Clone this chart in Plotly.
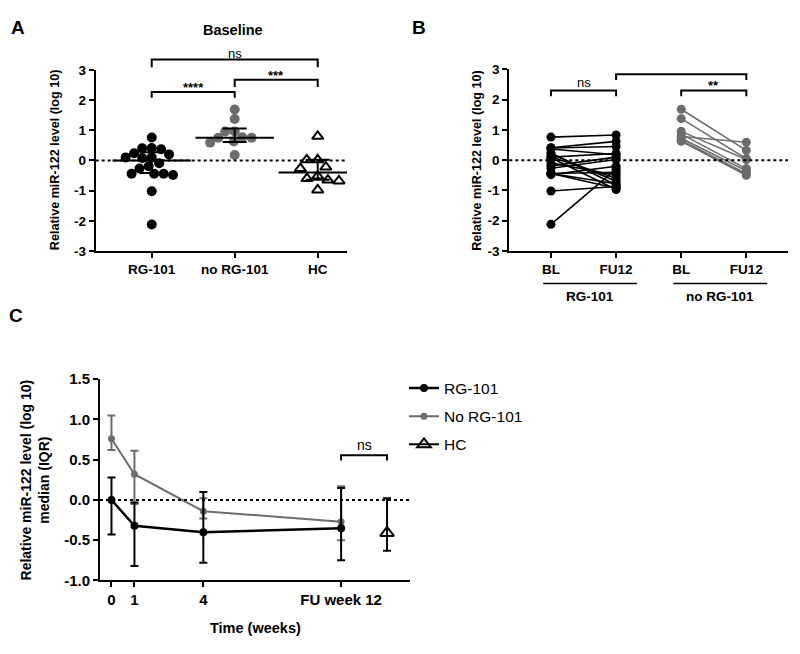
import numpy as np
import plotly.graph_objects as go

# The page body has an 8px margin; the figure is sized to fill the rest of the window.
OFF = 8
W, H = 800 - OFF, 654 - OFF
FONT = "Liberation Sans, Arial, Helvetica, sans-serif"
GREY = "rgb(108,108,108)"

# ---------------- Panel A : baseline scatter ----------------
a_groups = ["RG-101", "no RG-101", "HC"]
a_rg101 = [0.76, 0.41, 0.37, 0.40, 0.24, 0.20, 0.10, 0.10, 0.08, -0.09,
           -0.27, -0.19, -0.44, -0.48, -0.44, -0.44, -1.02, -2.12]
a_norg = [1.69, 1.37, 0.96, 0.96, 0.75, 0.75, 0.77, 0.63, 0.59, 0.18]
a_hc = [0.80, 0.02, 0.02, -0.22, -0.27, -0.52, -0.60, -0.68, -0.65, -0.98]
a_median = [0.0, 0.75, -0.40]
a_q1 = [-0.42, 0.61, -0.64]
a_q3 = [0.27, 1.06, 0.02]
ab_yticks = [-3, -2, -1, 0, 1, 2, 3]
ab_yticklabels = ["-3", "-2", "-1", "0", "1", "2", "3"]

# ---------------- Panel B : paired BL vs FU12 ----------------
b_ticks = ["BL", "FU12", "BL", "FU12"]
b_group_labels = ["RG-101", "no RG-101"]
b_rg_bl = [0.76, 0.41, 0.40, 0.37, 0.24, 0.20, 0.10, 0.10, 0.08, -0.09,
           -0.19, -0.27, -0.44, -0.44, -0.44, -0.48, -1.02, -2.12]
b_rg_fu = [0.83, 0.62, 0.45, 0.18, -0.82, -0.70, 0.22, -0.60, -0.97, -0.50,
           0.10, 0.02, -0.78, -0.93, -0.40, -0.20, -0.87, -0.30]
b_no_bl = [1.68, 1.37, 0.95, 0.86, 0.78, 0.72, 0.66, 0.62]
b_no_fu = [0.32, 0.05, 0.02, -0.28, 0.59, -0.35, -0.45, -0.50]

# ---------------- Panel C : time course, median (IQR) ----------------
c_weeks = [0, 1, 4, 10]
c_tick_labels = ["0", "1", "4", "FU week 12"]
c_yticks = [-1.0, -0.5, 0.0, 0.5, 1.0, 1.5]
c_yticklabels = ["-1.0", "-0.5", "0.0", "0.5", "1.0", "1.5"]
c_rg_med = [0.0, -0.32, -0.40, -0.35]
c_rg_q1 = [-0.43, -0.82, -0.78, -0.75]
c_rg_q3 = [0.28, -0.03, 0.10, 0.15]
c_no_med = [0.76, 0.32, -0.14, -0.27]
c_no_q1 = [0.62, -0.05, -0.23, -0.50]
c_no_q3 = [1.05, 0.61, 0.02, 0.17]
c_hc_x = [12]
c_hc_med = [-0.41]
c_hc_q1 = [-0.63]
c_hc_q3 = [0.02]


def PX(x):  # window pixel -> paper x
    return (x - OFF) / W


def PY(y):  # window pixel -> paper y
    return 1 - (y - OFF) / H


# ---------------- layout geometry ----------------
A_XDOM = [PX(95.7), PX(347)]
A_XR = [-0.675, 2.353]
A_YDOM = [PY(248.3), PY(62.3)]
A_YR = [-3, 3]
B_XDOM = [PX(509.3), PX(788)]
B_XR = [-0.64, 3.64]
B_YDOM = [PY(248.3), PY(61.7)]
C_XDOM = [PX(100), PX(410)]
C_XR = [-0.5, 13]
C_YDOM = [PY(586.7), PY(380)]
C_YR = [-1, 1.5]

ppx_a = (A_XDOM[1] - A_XDOM[0]) * W / (A_XR[1] - A_XR[0])
ppy_a = (A_YDOM[1] - A_YDOM[0]) * H / (A_YR[1] - A_YR[0])


def swarm(vals, ppy, diam):
    """simple beeswarm: horizontal pixel offsets avoiding overlap"""
    vals = np.asarray(vals, dtype=float)
    order = np.argsort(-vals, kind="stable")
    placed = []
    offs = np.zeros(len(vals))
    for i in order:
        y = vals[i] * ppy
        cands = [0.0]
        for py, px in placed:
            dy = abs(py - y)
            if dy < diam:
                dx = np.sqrt(diam ** 2 - dy ** 2)
                cands += [px - dx, px + dx]
        cands = sorted(cands, key=lambda c: (abs(c), c))
        for c in cands:
            if all((c - px) ** 2 + (y - py) ** 2 >= diam ** 2 - 1e-6 for py, px in placed):
                offs[i] = c
                placed.append((y, c))
                break
    return offs


fig = go.Figure()

# Panel A points
a_sets = [(a_rg101, "circle", "black", 10, 9.5),
          (a_norg, "circle", GREY, 10, 9.5),
          (a_hc, "triangle-up-open", "black", 10, 11)]
for gi, (vals, sym, col, size, diam) in enumerate(a_sets):
    offs = swarm(vals, ppy_a, diam)
    xs = gi + offs / ppx_a
    fig.add_trace(go.Scatter(
        x=xs, y=vals, mode="markers", xaxis="x", yaxis="y", showlegend=False,
        marker=dict(symbol=sym, size=size, color=col,
                    line=dict(color=col, width=2 if "open" in sym else 0)),
        hoverinfo="y"))

# median + IQR
fig.add_trace(go.Scatter(
    x=list(range(len(a_groups))), y=a_median, mode="markers", xaxis="x", yaxis="y",
    showlegend=False,
    marker=dict(symbol="line-ew-open", size=56, color="black", line=dict(color="black", width=2)),
    error_y=dict(type="data", symmetric=False,
                 array=[q3 - m for q3, m in zip(a_q3, a_median)],
                 arrayminus=[m - q1 for q1, m in zip(a_q1, a_median)],
                 color="black", thickness=2, width=12)))


# Panel B paired lines
def pair_xy(bl, fu, x0):
    xs, ys = [], []
    for b, f in zip(bl, fu):
        xs += [x0, x0 + 1, None]
        ys += [b, f, None]
    return xs, ys


xs, ys = pair_xy(b_rg_bl, b_rg_fu, 0)
fig.add_trace(go.Scatter(x=xs, y=ys, mode="lines+markers", xaxis="x2", yaxis="y2",
                         showlegend=False, line=dict(color="black", width=1.6),
                         marker=dict(size=9, color="black")))
xs, ys = pair_xy(b_no_bl, b_no_fu, 2)
fig.add_trace(go.Scatter(x=xs, y=ys, mode="lines+markers", xaxis="x2", yaxis="y2",
                         showlegend=False, line=dict(color=GREY, width=1.6),
                         marker=dict(size=9, color=GREY)))


# Panel C
def err(med, q1, q3, color):
    return dict(type="data", symmetric=False,
                array=[b - m for b, m in zip(q3, med)],
                arrayminus=[m - a for a, m in zip(q1, med)],
                color=color, thickness=2, width=4)


fig.add_trace(go.Scatter(x=c_weeks, y=c_no_med, mode="lines+markers", name="No RG-101",
                         legendrank=2, legendgroup="g2", xaxis="x3", yaxis="y3",
                         line=dict(color=GREY, width=2), marker=dict(size=7, color=GREY),
                         error_y=err(c_no_med, c_no_q1, c_no_q3, GREY)))
fig.add_trace(go.Scatter(x=c_weeks, y=c_rg_med, mode="lines+markers", name="RG-101",
                         legendrank=1, legendgroup="g1", xaxis="x3", yaxis="y3",
                         line=dict(color="black", width=2.5), marker=dict(size=8, color="black"),
                         error_y=err(c_rg_med, c_rg_q1, c_rg_q3, "black")))
fig.add_trace(go.Scatter(x=c_hc_x, y=c_hc_med, mode="lines+markers", name="HC",
                         legendrank=3, legendgroup="g3", xaxis="x3", yaxis="y3",
                         line=dict(color="black", width=2),
                         marker=dict(symbol="triangle-up-open", size=12, color="black",
                                     line=dict(color="black", width=2)),
                         error_y=err(c_hc_med, c_hc_q1, c_hc_q3, "black")))

# ---------------- axes ----------------
tick_a = dict(family=FONT, size=13.5, color="black", weight="bold")
tick_c = dict(family=FONT, size=15, color="black", weight="bold")
axis_common = dict(showline=True, linecolor="black", linewidth=2, ticks="outside",
                   ticklen=5, tickwidth=2, tickcolor="black", showgrid=False,
                   zeroline=False, fixedrange=True)

fig.update_layout(
    width=W, height=H, margin=dict(l=0, r=0, t=0, b=0),
    paper_bgcolor="white", plot_bgcolor="white",
    font=dict(family=FONT, color="black"),
    xaxis=dict(domain=A_XDOM, range=A_XR, anchor="y", tickvals=[0, 1, 2],
               ticktext=a_groups, tickfont=tick_a, **axis_common),
    yaxis=dict(domain=A_YDOM, range=A_YR, anchor="x", tickvals=ab_yticks,
               ticktext=ab_yticklabels, tickfont=tick_a, **axis_common),
    xaxis2=dict(domain=B_XDOM, range=B_XR, anchor="y2", tickvals=[0, 1, 2, 3],
                ticktext=b_ticks, tickfont=tick_a, **axis_common),
    yaxis2=dict(domain=B_YDOM, range=A_YR, anchor="x2", tickvals=ab_yticks,
                ticktext=ab_yticklabels, tickfont=tick_a, **axis_common),
    xaxis3=dict(domain=C_XDOM, range=C_XR, anchor="y3", tickvals=c_weeks,
                ticktext=c_tick_labels, tickfont=tick_c, **axis_common),
    yaxis3=dict(domain=C_YDOM, range=C_YR, anchor="x3", tickvals=c_yticks,
                ticktext=c_yticklabels, tickfont=tick_c, **axis_common),
    legend=dict(x=PX(404), y=PY(372), xanchor="left", yanchor="top",
                font=dict(family=FONT, size=15.5, color="black"),
                tracegroupgap=5, itemsizing="trace", bgcolor="rgba(0,0,0,0)"),
)

# ---------------- shapes: dotted zero lines & brackets ----------------
shapes = []
for xr, yr in [("x", "y"), ("x2", "y2"), ("x3", "y3")]:
    shapes.append(dict(type="line", xref=f"{xr} domain", yref=yr, x0=0, x1=1, y0=0, y1=0,
                       line=dict(color="black", width=2, dash="3px,3px")))


def ydom(v, rng):
    return (v - rng[0]) / (rng[1] - rng[0])


def bracket(x0, x1, ytop, yleg, xref, yref):
    return dict(type="path", xref=xref, yref=yref,
                path=f"M {x0},{yleg} L {x0},{ytop} L {x1},{ytop} L {x1},{yleg}",
                line=dict(color="black", width=2))


# panel A brackets (above axis range)
shapes.append(bracket(0, 2, ydom(3.34, A_YR), ydom(3.09, A_YR), "x", "y domain"))
shapes.append(bracket(0, 1, ydom(2.27, A_YR), ydom(2.08, A_YR), "x", "y domain"))
shapes.append(bracket(1, 2, ydom(2.67, A_YR), ydom(2.43, A_YR), "x", "y domain"))
# panel B brackets
shapes.append(bracket(0, 1, 2.30, 2.11, "x2", "y2"))
shapes.append(bracket(1, 3, 2.84, 2.65, "x2", "y2"))
shapes.append(bracket(2, 3, 2.30, 2.11, "x2", "y2"))
# panel B group underlines
shapes.append(dict(type="line", xref="x2", yref="y2 domain", x0=-0.12, x1=1.32,
                   y0=-0.179, y1=-0.179, line=dict(color="black", width=1.5)))
shapes.append(dict(type="line", xref="x2", yref="y2 domain", x0=1.88, x1=3.32,
                   y0=-0.179, y1=-0.179, line=dict(color="black", width=1.5)))
# panel C bracket
shapes.append(bracket(10, 12, 0.555, 0.49, "x3", "y3"))
fig.update_layout(shapes=shapes)


# ---------------- annotations ----------------
def px_ann(text, x, y, size, bold=True, angle=0):
    return dict(text=text, x=PX(x), y=PY(y), xref="paper", yref="paper",
                xanchor="center", yanchor="middle", showarrow=False, textangle=angle,
                font=dict(family=FONT, size=size, color="black",
                          weight="bold" if bold else "normal"))


anns = [
    px_ann("A", 17.5, 19, 19),
    px_ann("B", 418.5, 18.5, 19),
    px_ann("C", 16, 315, 19),
    px_ann("Baseline", 233, 21, 14.5),
    px_ann("Relative miR-122 level (log 10)", 55, 155, 12.6, angle=-90),
    px_ann("Relative miR-122 level (log 10)", 476.7, 155, 12.6, angle=-90),
    px_ann("Relative miR-122 level (log 10)<br>median (IQR)", 35, 484, 14, angle=-90),
    px_ann("Time (weeks)", 255, 635, 14.5),
    px_ann(b_group_labels[0], 590, 295, 13.5),
    px_ann(b_group_labels[1], 720, 295, 13.5),
]


def data_ann(text, x, y, xref, yref, size, bold=False):
    return dict(text=text, x=x, y=y, xref=xref, yref=yref, xanchor="center",
                yanchor="middle", showarrow=False,
                font=dict(family=FONT, size=size, color="black",
                          weight="bold" if bold else "normal"))


anns += [
    data_ann("ns", 1, ydom(3.53, A_YR), "x", "y domain", 13),
    data_ann("****", 0.5, ydom(2.40, A_YR), "x", "y domain", 13, True),
    data_ann("***", 1.5, ydom(2.80, A_YR), "x", "y domain", 13, True),
    data_ann("ns", 0.5, 2.55, "x2", "y2", 13),
    data_ann("ns", 2, 3.07, "x2", "y2", 13),
    data_ann("**", 2.5, 2.45, "x2", "y2", 13, True),
    data_ann("ns", 11, 0.68, "x3", "y3", 14),
]
fig.update_layout(annotations=anns)

fig.write_html("out.html")
